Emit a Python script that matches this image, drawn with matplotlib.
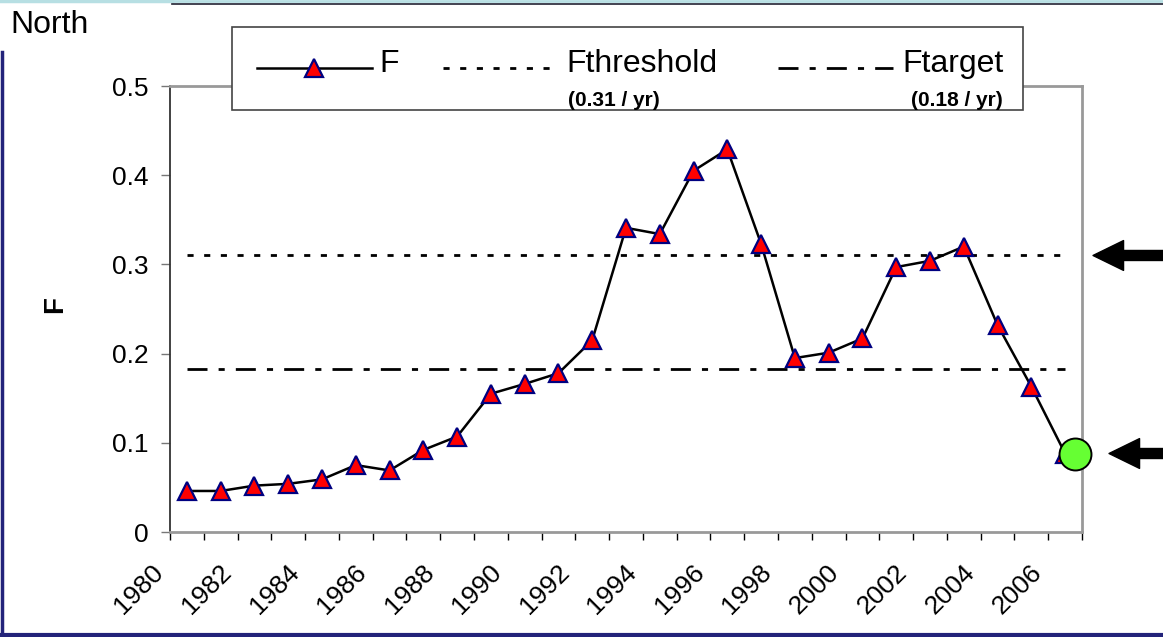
import matplotlib
matplotlib.use('Agg')
import matplotlib.pyplot as plt
from matplotlib.lines import Line2D
from matplotlib.patches import Rectangle
from matplotlib.transforms import ScaledTranslation

plt.rcParams['font.family'] = ['Liberation Sans', 'DejaVu Sans']

# data
years = list(range(1980, 2007))
f_values = [0.046, 0.046, 0.052, 0.054, 0.059, 0.075, 0.069, 0.092, 0.107,
            0.155, 0.166, 0.178, 0.215, 0.341, 0.334, 0.405, 0.429, 0.323,
            0.195, 0.201, 0.217, 0.297, 0.304, 0.320, 0.232, 0.163, 0.088]
f_threshold = 0.31
f_target = 0.183
f_current = 0.088
year_labels = [str(y) for y in range(1980, 2007, 2)]
y_ticks = [0, 0.1, 0.2, 0.3, 0.4, 0.5]

W, H = 1163, 637


def px(x, y):
    """pixel position -> figure fraction"""
    return x / W, 1 - y / H


fig = plt.figure(figsize=(W / 100, H / 100), dpi=100)
ax = fig.add_axes([170 / W, 1 - 532 / H, (1082 - 170) / W, (532 - 86) / H])

# categories are drawn in the middle of each year slot
xs = [y + 0.5 for y in years]

ax.plot(xs, [f_threshold] * len(xs), color='black', lw=2, dashes=(2.2, 3.8))
ax.plot(xs, [f_target] * len(xs), color='black', lw=2,
        dashes=(7.2, 4, 2.2, 4))
ax.plot(xs, f_values, color='black', lw=1.8, marker='^', markersize=13,
        markerfacecolor='red', markeredgecolor='#000080', markeredgewidth=1.6,
        zorder=3)
# current estimate, drawn a little right of the last triangle
ax.plot(xs[-1] + 0.3, f_current, 'o', markersize=23, markerfacecolor='#66ff33',
        markeredgecolor='black', markeredgewidth=1.4, zorder=4, clip_on=False)

ax.set_xlim(1980, 2007)
ax.set_ylim(0, 0.5)
ax.set_xticks(range(1980, 2007, 2))
ax.set_xticklabels(year_labels, rotation=45, ha='right', va='center',
                   rotation_mode='anchor', fontsize=19)
ax.set_xticks(range(1980, 2008), minor=True)
ax.set_yticks(y_ticks)
ax.set_yticklabels(['%g' % v for v in y_ticks], fontsize=19)
ax.tick_params(axis='x', which='both', direction='out', length=6, width=1,
               color='black', pad=20)
ax.tick_params(axis='y', direction='out', length=6.5, width=1,
               color='#777777', pad=9)
shift = ScaledTranslation(-10 / 100, 0, fig.dpi_scale_trans)
for lab in ax.get_xticklabels():
    lab.set_transform(lab.get_transform() + shift)

ax.spines['left'].set_color('#333333')
ax.spines['left'].set_linewidth(1.3)
for s in ['top', 'right', 'bottom']:
    ax.spines[s].set_color('#999999')
    ax.spines[s].set_linewidth(2)

ax.set_ylabel('F', fontsize=20, fontweight='bold')
ax.yaxis.set_label_coords((68 - 170) / 912, 0.51)

# legend drawn by hand to match the boxed layout
x0, y0 = px(232, 110)
x1, y1 = px(1023, 27)
fig.add_artist(Rectangle((x0, y0), x1 - x0, y1 - y0, transform=fig.transFigure,
                         facecolor='white', edgecolor='#444444', lw=1.2, zorder=5))
ly = 68
fig.add_artist(Line2D([257 / W, 372 / W], [px(0, ly)[1]] * 2, color='black', lw=1.8,
                      transform=fig.transFigure, zorder=6))
fig.add_artist(Line2D([314 / W], [px(0, ly)[1]], marker='^', markersize=13,
                      markerfacecolor='red', markeredgecolor='#000080',
                      markeredgewidth=1.6, transform=fig.transFigure, zorder=7))
fig.add_artist(Line2D([443 / W, 553 / W], [px(0, ly)[1]] * 2, color='black', lw=2,
                      dashes=(2.2, 3.8), transform=fig.transFigure, zorder=6))
fig.add_artist(Line2D([778 / W, 893 / W], [px(0, ly)[1]] * 2, color='black', lw=2,
                      dashes=(7.2, 4, 2.2, 4), transform=fig.transFigure, zorder=6))
fig.text(*px(379, 64), 'F', fontsize=23, va='center', ha='left', zorder=7)
fig.text(*px(566, 64), 'Fthreshold', fontsize=23, va='center', ha='left', zorder=7)
fig.text(*px(902, 64), 'Ftarget', fontsize=23, va='center', ha='left', zorder=7)
fig.text(*px(568, 100), '(0.31 / yr)', fontsize=15, fontweight='bold',
         va='center', ha='left', zorder=7)
fig.text(*px(1003, 100), '(0.18 / yr)', fontsize=15, fontweight='bold',
         va='center', ha='right', zorder=7)

fig.text(*px(10, 25), 'North', fontsize=23, va='center', ha='left')

# arrows on the right pointing at the threshold and the current value
for tip, yv in [(1093, f_threshold), (1109, f_current)]:
    ax.annotate('', xy=(tip / W, yv), xytext=(1.0, yv),
                xycoords=('figure fraction', 'data'),
                textcoords=('figure fraction', 'data'),
                arrowprops=dict(arrowstyle='simple,head_length=2.2,head_width=2.15,tail_width=0.72',
                                mutation_scale=10, color='black', shrinkA=0, shrinkB=0),
                annotation_clip=False)

# slide frame
fig.add_artist(Line2D([0, 172 / W], [1 - 1 / H] * 2, color='#b7dfe3', lw=2.5,
                      transform=fig.transFigure))
fig.add_artist(Line2D([172 / W, 1], [1 - 1 / H] * 2, color='#b7dfe3', lw=2,
                      transform=fig.transFigure))
fig.add_artist(Line2D([172 / W, 1], [1 - 3.5 / H] * 2, color='#222233', lw=1.2,
                      transform=fig.transFigure))
fig.add_artist(Line2D([1.5 / W] * 2, [0, 1 - 52 / H], color='#23237a', lw=2.5,
                      transform=fig.transFigure))
fig.add_artist(Line2D([0, 1], [2.5 / H] * 2, color='#23237a', lw=3,
                      transform=fig.transFigure))

fig.savefig('out.png', dpi=100)
